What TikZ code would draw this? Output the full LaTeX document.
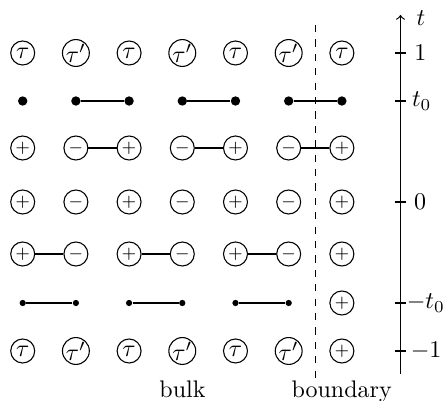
\documentclass[tikz,border=0pt]{standalone}
\begin{document}
\begin{tikzpicture}[x=0.41667pt,y=-0.41667pt,
  site/.style={circle,draw,minimum size=10pt,inner sep=0pt,line width=0.45pt},
  bigdot/.style={circle,fill,inner sep=0pt,minimum size=3.9pt},
  smalldot/.style={circle,fill,inner sep=0pt,minimum size=2.6pt},
  bond/.style={line width=0.85pt},
  axis/.style={line width=0.5pt},
  ticklab/.style={anchor=west,inner sep=0pt}]
\useasboundingbox (0,0) rectangle (443,401);
% row y positions: 53,101,148,202,254,303,351
\foreach \c [evaluate=\c as \x using 22.7+53.2*(\c-1)] in {1,...,7}{
  \node[site] (r1c\c) at (\x,53) {\ifodd\c $\tau$\else $\tau'$\fi};
  \node[bigdot] (r2c\c) at (\x,101) {};
  \node[site] (r3c\c) at (\x,148) {\ifodd\c $\scriptstyle +$\else $\scriptstyle -$\fi};
  \node[site] (r4c\c) at (\x,202) {\ifodd\c $\scriptstyle +$\else $\scriptstyle -$\fi};
  \node[site] (r5c\c) at (\x,254) {\ifodd\c $\scriptstyle +$\else $\scriptstyle -$\fi};
}
\foreach \c [evaluate=\c as \x using 22.7+53.2*(\c-1)] in {1,...,6}{
  \node[smalldot] (r6c\c) at (\x,303) {};
  \node[site] (r7c\c) at (\x,351) {\ifodd\c $\tau$\else $\tau'$\fi};
}
\node[site] (r6c7) at (341.9,303) {$\scriptstyle +$};
\node[site] (r7c7) at (341.9,351) {$\scriptstyle +$};
% bonds
\draw[bond] (r2c2) -- (r2c3) (r2c4) -- (r2c5) (r2c6) -- (r2c7);
\draw[bond] (r3c2) -- (r3c3) (r3c4) -- (r3c5) (r3c6) -- (r3c7);
\draw[bond] (r5c1) -- (r5c2) (r5c3) -- (r5c4) (r5c5) -- (r5c6);
\draw[bond] (r6c1) -- (r6c2) (r6c3) -- (r6c4) (r6c5) -- (r6c6);
% dashed boundary line
\coordinate (dtop) at (315.7,25);
\coordinate (dbot) at (315.7,380);
\draw[dashed,line width=0.45pt] (dtop) -- (dbot);
% time axis
\coordinate (abot) at (400.5,374);
\coordinate (atop) at (400.5,15);
\draw[axis,->] (abot) -- (atop);
\node (tlab) at (421,18) {$t$};
\foreach \y/\n in {53/a,101/b,202/c,303/d,351/e}{
  \coordinate (tl\n) at (395,\y);
  \coordinate (tr\n) at (405.7,\y);
  \draw[axis] (tl\n) -- (tr\n);
}
\node[ticklab] (l1) at (414,53) {$1$};
\node[ticklab] (lt0) at (411.6,101) {$t_0$};
\node[ticklab] (l0) at (413.7,202) {$0$};
\node[ticklab] (lmt0) at (406.3,303) {$-t_0$};
\node[ticklab] (lm1) at (410.3,351) {$-1$};
% labels
\node[anchor=base] (bulk) at (182.5,397.7) {bulk};
\node[anchor=base] (bdry) at (341.7,397.7) {boundary};
\end{tikzpicture}
\end{document}
